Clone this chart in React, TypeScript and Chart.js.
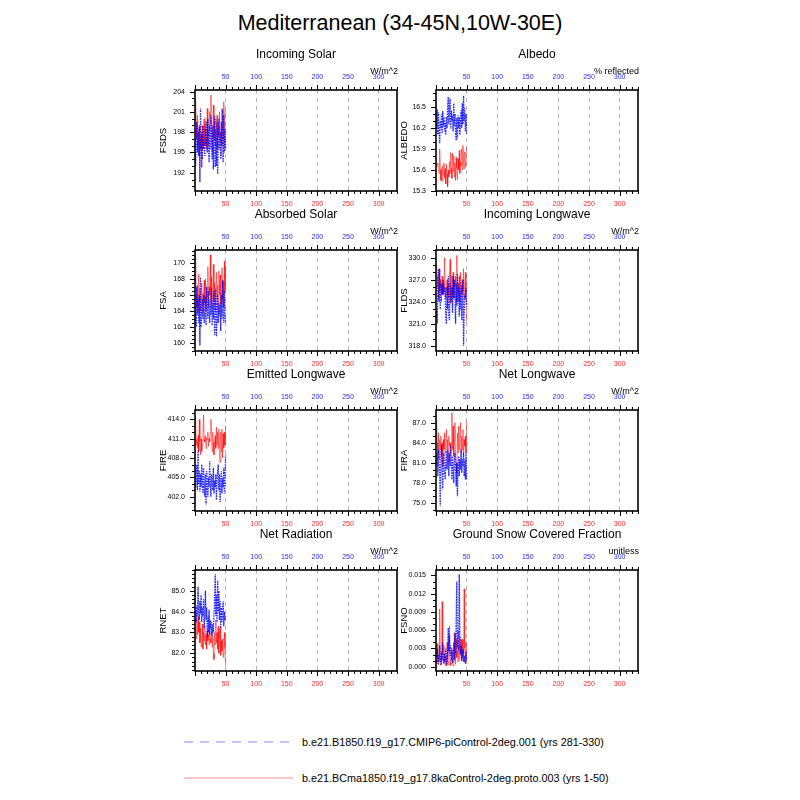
import React, { useEffect, useRef } from "react";
import { Chart, registerables } from "chart.js";

Chart.register(...registerables);

const FONT = '"Liberation Sans", Arial, Helvetica, sans-serif';

const MAIN_TITLE = "Mediterranean (34-45N,10W-30E)";
const LEGEND_BLUE = "b.e21.B1850.f19_g17.CMIP6-piControl-2deg.001 (yrs 281-330)";
const LEGEND_RED = "b.e21.BCma1850.f19_g17.8kaControl-2deg.proto.003 (yrs 1-50)";

const YEARS = [
  1, 2, 3, 4, 5, 6, 7, 8, 9, 10, 11, 12, 13, 14, 15, 16, 17, 18, 19, 20, 21, 22, 23, 24, 25,
  26, 27, 28, 29, 30, 31, 32, 33, 34, 35, 36, 37, 38, 39, 40, 41, 42, 43, 44, 45, 46, 47, 48, 49, 50,
];
const X_TICKS = [50, 100, 150, 200, 250, 300];
const X_MIN = 0;
const X_MAX = 330;

// ---------- data ----------
const FSDS_RED = [
  203.0, 199.5, 197.0, 200.5, 196.0, 198.5, 194.5, 199.0, 195.5, 197.5,
  192.8, 199.0, 195.5, 198.0, 200.0, 196.0, 199.5, 197.0, 195.5, 201.5,
  197.5, 196.0, 198.5, 201.0, 199.0, 203.5, 197.5, 195.0, 198.0, 202.0,
  197.0, 199.5, 196.0, 200.0, 198.5, 200.5, 195.5, 199.0, 197.5, 201.0,
  196.5, 198.0, 194.5, 201.5, 199.0, 197.0, 202.5, 196.0, 200.5, 201.5,
];
const FSDS_BLUE = [
  193.0, 196.5, 199.5, 195.0, 198.0, 194.5, 199.0, 190.6, 201.5, 195.5,
  198.0, 194.0, 199.0, 195.5, 197.0, 194.5, 198.5, 196.0, 199.5, 195.0,
  200.0, 196.5, 193.5, 199.0, 195.5, 200.5, 197.5, 194.0, 199.0, 192.5,
  197.5, 200.5, 192.8, 198.5, 193.0, 199.5, 191.8, 197.0, 200.0, 195.5,
  198.0, 194.0, 199.5, 196.0, 201.4, 193.5, 200.5, 195.0, 198.5, 195.5,
];
const FSDS_TICKS = [192, 195, 198, 201, 204];

const ALBEDO_RED = [
  15.67, 15.66, 15.70, 15.62, 15.55, 15.90, 15.60, 15.45, 15.62, 15.44,
  15.66, 15.52, 15.70, 15.48, 15.62, 15.40, 15.68, 15.55, 15.36, 15.60,
  15.50, 15.72, 15.55, 15.85, 15.62, 15.48, 15.84, 15.58, 15.80, 15.50,
  15.70, 15.45, 15.78, 15.62, 15.46, 15.76, 15.60, 15.88, 15.55, 15.72,
  15.66, 15.90, 15.60, 15.95, 15.70, 15.62, 15.86, 15.65, 15.78, 15.92,
];
const ALBEDO_BLUE = [
  16.20, 16.46, 16.10, 16.42, 16.15, 15.98, 16.30, 16.25, 16.40, 16.12,
  16.44, 16.22, 16.35, 16.15, 16.28, 16.10, 16.36, 16.20, 16.50, 16.64,
  16.25, 16.45, 16.62, 16.18, 16.45, 16.30, 16.38, 16.15, 16.55, 16.22,
  16.40, 16.12, 16.02, 16.34, 16.05, 16.38, 16.20, 16.35, 16.10, 16.30,
  16.45, 16.20, 16.55, 16.25, 16.66, 16.30, 16.48, 16.15, 16.40, 16.10,
];
const ALBEDO_TICKS = [15.3, 15.6, 15.9, 16.2, 16.5];

const FSA_RED = [
  170.8, 166.0, 164.5, 167.2, 163.8, 168.6, 165.2, 166.8, 164.0, 165.5,
  167.5, 163.6, 166.2, 164.8, 167.8, 165.0, 168.0, 164.2, 166.5, 165.8,
  169.5, 164.5, 167.0, 166.0, 171.0, 165.5, 168.2, 164.8, 166.8, 169.8,
  165.2, 167.5, 164.0, 166.5, 168.8, 165.5, 167.2, 163.8, 169.0, 166.0,
  168.5, 164.8, 166.2, 169.4, 165.5, 167.8, 164.5, 170.2, 166.5, 169.5,
];
const FSA_BLUE = [
  164.5, 162.0, 167.0, 163.5, 165.5, 162.5, 166.0, 159.7, 168.2, 162.0,
  164.5, 165.5, 163.0, 166.0, 162.5, 164.0, 165.8, 162.2, 167.0, 164.5,
  163.0, 166.5, 164.0, 162.5, 165.5, 163.5, 166.8, 162.2, 165.0, 163.0,
  166.5, 161.0, 164.5, 166.8, 160.8, 164.0, 166.0, 162.5, 165.0, 163.5,
  164.8, 161.5, 166.0, 163.0, 167.8, 164.0, 162.5, 166.5, 163.5, 162.5,
];
const FSA_TICKS = [160, 162, 164, 166, 168, 170];

const FLDS_RED = [
  329.0, 326.0, 327.5, 324.5, 328.5, 325.5, 327.0, 326.0, 324.0, 327.5,
  325.0, 326.5, 325.5, 330.0, 326.0, 324.5, 326.0, 327.0, 325.0, 326.5,
  324.5, 327.0, 329.8, 323.8, 326.5, 327.5, 325.0, 328.0, 324.5, 327.0,
  326.0, 327.5, 324.0, 330.3, 325.5, 326.5, 325.0, 327.5, 324.0, 328.0,
  326.0, 325.0, 327.0, 325.5, 328.5, 324.5, 326.0, 328.0, 325.0, 321.3,
];
const FLDS_BLUE = [
  323.0, 321.0, 325.5, 328.5, 324.0, 328.5, 323.0, 326.5, 325.0, 326.5,
  325.0, 327.0, 325.5, 326.0, 324.5, 322.0, 321.0, 326.0, 323.0, 327.5,
  322.0, 321.5, 326.5, 325.5, 324.0, 326.0, 322.5, 327.5, 324.5, 327.0,
  324.5, 321.0, 326.5, 323.5, 327.8, 324.0, 326.0, 322.0, 325.5, 323.0,
  326.5, 321.5, 324.5, 327.0, 318.0, 322.5, 325.0, 324.5, 326.0, 323.5,
];
const FLDS_TICKS = [318, 321, 324, 327, 330];

const FIRE_RED = [
  414.5, 410.0, 411.0, 409.5, 411.5, 409.0, 414.0, 410.5, 408.5, 411.0,
  409.0, 410.0, 411.5, 414.7, 411.0, 410.5, 411.5, 409.5, 411.2, 410.8,
  412.0, 409.8, 411.0, 410.5, 412.0, 414.0, 411.0, 409.0, 412.0, 410.5,
  408.5, 410.8, 411.5, 409.5, 412.8, 410.0, 412.0, 409.5, 412.5, 408.0,
  407.3, 412.0, 409.0, 412.5, 408.0, 411.8, 409.5, 412.0, 410.0, 413.0,
];
const FIRE_BLUE = [
  403.5, 405.0, 407.0, 403.0, 409.3, 404.0, 406.0, 402.8, 405.5, 403.5,
  407.0, 404.5, 402.5, 406.5, 404.0, 402.0, 405.5, 400.8, 406.0, 404.5,
  402.0, 405.0, 403.5, 407.5, 404.0, 402.0, 405.5, 404.0, 403.0, 406.5,
  402.5, 404.5, 403.5, 405.5, 401.5, 404.5, 406.0, 407.0, 403.0, 405.5,
  401.2, 404.0, 406.0, 402.5, 405.0, 403.5, 406.5, 402.5, 404.5, 408.5,
];
const FIRE_TICKS = [402, 405, 408, 411, 414];

const FIRA_RED = [
  87.5, 84.0, 82.5, 85.5, 81.5, 84.5, 83.0, 85.0, 82.0, 84.0,
  80.5, 84.5, 83.0, 85.5, 82.5, 84.0, 86.0, 83.0, 84.5, 81.0,
  85.0, 83.5, 84.0, 82.5, 84.0, 88.5, 83.0, 86.5, 82.0, 84.5,
  87.0, 82.0, 81.0, 79.5, 85.5, 82.5, 86.5, 83.0, 84.5, 87.0,
  82.5, 85.0, 83.0, 86.0, 82.0, 84.5, 83.5, 85.0, 82.5, 87.2,
];
const FIRA_BLUE = [
  80.5, 82.5, 79.0, 83.0, 81.0, 79.5, 74.5, 82.0, 83.7, 80.0,
  77.0, 81.5, 82.5, 79.5, 78.5, 81.0, 82.8, 80.0, 83.0, 81.5,
  79.0, 82.5, 80.5, 83.5, 81.0, 78.5, 82.0, 80.0, 78.0, 81.5,
  82.5, 80.0, 77.5, 81.0, 76.0, 80.5, 82.0, 79.0, 81.5, 80.0,
  83.0, 79.5, 81.0, 80.5, 82.5, 79.0, 81.5, 78.5, 82.5, 78.5,
];
const FIRA_TICKS = [75, 78, 81, 84, 87];

const RNET_RED = [
  83.2, 82.7, 83.6, 82.9, 83.8, 83.0, 83.5, 82.5, 83.2, 82.3,
  82.8, 83.4, 82.2, 83.0, 82.6, 83.3, 82.4, 82.9, 82.2, 83.1,
  82.6, 82.9, 82.4, 83.0, 82.7, 82.5, 83.2, 82.3, 82.8, 82.0,
  81.7, 83.0, 82.4, 83.6, 82.5, 83.0, 82.2, 83.3, 82.0, 82.8,
  83.2, 81.9, 82.6, 82.1, 82.7, 81.8, 82.5, 83.0, 82.2, 81.4,
];
const RNET_BLUE = [
  84.0, 83.5, 84.3, 83.8, 85.2, 84.0, 83.6, 84.5, 83.9, 84.8,
  83.5, 84.2, 83.8, 84.6, 83.2, 84.0, 85.0, 83.6, 84.2, 82.8,
  83.8, 83.0, 84.1, 82.9, 83.6, 83.2, 83.5, 82.8, 83.4, 83.0,
  83.9, 84.5, 85.8, 83.8, 84.8, 83.5, 85.5, 84.0, 85.0, 83.6,
  84.5, 83.2, 84.2, 83.5, 84.0, 84.5, 83.3, 84.0, 83.6, 83.8,
];
const RNET_TICKS = [82, 83, 84, 85];

const FSNO_RED = [
  0.0005, 0.0038, 0.0012, 0.0003, 0.0028, 0.0095, 0.0008, 0.0015, 0.0004, 0.0107,
  0.0022, 0.0006, 0.0035, 0.0010, 0.0002, 0.0018, 0.0001, 0.0040, 0.0012, 0.0003,
  0.0025, 0.0067, 0.0008, 0.0002, 0.0014, 0.0030, 0.0005, 0.0001, 0.0020, 0.0056,
  0.0010, 0.0004, 0.0045, 0.0015, 0.0025, 0.0008, 0.0035, 0.0012, 0.0050, 0.0020,
  0.0045, 0.0010, 0.0045, 0.0025, 0.0008, 0.0128, 0.0030, 0.0015, 0.0040, 0.0005,
];
const FSNO_BLUE = [
  0.0015, 0.0030, 0.0005, 0.0020, 0.0008, 0.0035, 0.0012, 0.0002, 0.0025, 0.0010,
  0.0040, 0.0015, 0.0005, 0.0022, 0.0008, 0.0030, 0.0012, 0.0003, 0.0020, 0.0064,
  0.0025, 0.0052, 0.0018, 0.0035, 0.0010, 0.0028, 0.0006, 0.0015, 0.0040, 0.0012,
  0.0055, 0.0020, 0.0080, 0.0140, 0.0030, 0.0060, 0.0025, 0.0152, 0.0040, 0.0020,
  0.0035, 0.0010, 0.0028, 0.0015, 0.0022, 0.0008, 0.0018, 0.0005, 0.0025, 0.0012,
];
const FSNO_TICKS = [0, 0.003, 0.006, 0.009, 0.012, 0.015];

// ---------- layout / style ----------
const COL_X = [195, 436];
const ROW_Y = [90, 250, 410, 570];
const BOX_W = 202;
const BOX_H = 101;
const PAD_L = 70;
const PAD_T = 50;
const PAD_R = 10;
const PAD_B = 30;

const RED = "rgba(255,0,0,0.6)";
const BLUE = "rgba(0,0,255,0.85)";

type PanelDef = {
  title: string;
  varName: string;
  units: string;
  yMin: number;
  yMax: number;
  yTicks: number[];
  decimals: number;
  minor: number;
  red: number[];
  blue: number[];
  col: number;
  row: number;
};

const PANELS: PanelDef[] = [
  { title: "Incoming Solar", varName: "FSDS", units: "W/m^2", yMin: 189.3, yMax: 204.25, yTicks: FSDS_TICKS, decimals: 0, minor: 1, red: FSDS_RED, blue: FSDS_BLUE, col: 0, row: 0 },
  { title: "Albedo", varName: "ALBEDO", units: "% reflected", yMin: 15.3, yMax: 16.74, yTicks: ALBEDO_TICKS, decimals: 1, minor: 0.1, red: ALBEDO_RED, blue: ALBEDO_BLUE, col: 1, row: 0 },
  { title: "Absorbed Solar", varName: "FSA", units: "W/m^2", yMin: 159.0, yMax: 171.6, yTicks: FSA_TICKS, decimals: 0, minor: 0.5, red: FSA_RED, blue: FSA_BLUE, col: 0, row: 1 },
  { title: "Incoming Longwave", varName: "FLDS", units: "W/m^2", yMin: 317.3, yMax: 331.05, yTicks: FLDS_TICKS, decimals: 1, minor: 1, red: FLDS_RED, blue: FLDS_BLUE, col: 1, row: 1 },
  { title: "Emitted Longwave", varName: "FIRE", units: "W/m^2", yMin: 399.8, yMax: 415.45, yTicks: FIRE_TICKS, decimals: 1, minor: 1, red: FIRE_RED, blue: FIRE_BLUE, col: 0, row: 2 },
  { title: "Net Longwave", varName: "FIRA", units: "W/m^2", yMin: 73.8, yMax: 88.9, yTicks: FIRA_TICKS, decimals: 1, minor: 1, red: FIRA_RED, blue: FIRA_BLUE, col: 1, row: 2 },
  { title: "Net Radiation", varName: "RNET", units: "W/m^2", yMin: 81.15, yMax: 86.0, yTicks: RNET_TICKS, decimals: 1, minor: 0.2, red: RNET_RED, blue: RNET_BLUE, col: 0, row: 3 },
  { title: "Ground Snow Covered Fraction", varName: "FSNO", units: "unitless", yMin: -0.0007, yMax: 0.0159, yTicks: FSNO_TICKS, decimals: 3, minor: 0.001, red: FSNO_RED, blue: FSNO_BLUE, col: 1, row: 3 },
];

function makeFramePlugin(def: PanelDef) {
  return {
    id: "nclFrame",
    afterDraw(chart: any) {
      const { ctx, chartArea: a, scales } = chart;
      const xs = scales.x;
      const ys = scales.y;
      ctx.save();
      ctx.strokeStyle = "#000";
      ctx.lineWidth = 1;
      ctx.beginPath();
      for (let k = 0; k * 10 <= X_MAX; k++) {
        const v = k * 10;
        const px = Math.round(xs.getPixelForValue(v)) + 0.5;
        const len = v % 50 === 0 ? 5 : 3;
        ctx.moveTo(px, a.bottom);
        ctx.lineTo(px, a.bottom + len);
        ctx.moveTo(px, a.top);
        ctx.lineTo(px, a.top - len);
      }
      const kStart = Math.ceil(def.yMin / def.minor - 1e-6);
      const kEnd = Math.floor(def.yMax / def.minor + 1e-6);
      for (let k = kStart; k <= kEnd; k++) {
        const v = k * def.minor;
        const isMajor = def.yTicks.some((t) => Math.abs(t - v) < def.minor * 0.01);
        const py = Math.round(ys.getPixelForValue(v)) + 0.5;
        ctx.moveTo(a.left, py);
        ctx.lineTo(a.left - (isMajor ? 5 : 3), py);
      }
      ctx.stroke();
      ctx.lineWidth = 1.6;
      ctx.strokeRect(a.left, a.top, a.right - a.left, a.bottom - a.top);
      ctx.fillStyle = "#000";
      ctx.textAlign = "center";
      ctx.textBaseline = "middle";
      ctx.font = `12px ${FONT}`;
      ctx.fillText(def.title, (a.left + a.right) / 2, a.top - 35);
      ctx.textAlign = "right";
      ctx.font = `9px ${FONT}`;
      ctx.fillText(def.units, a.right + 1, a.top - 18);
      ctx.translate(a.left - 32, (a.top + a.bottom) / 2);
      ctx.rotate(-Math.PI / 2);
      ctx.textAlign = "center";
      ctx.font = `9.5px ${FONT}`;
      ctx.fillText(def.varName, 0, 0);
      ctx.restore();
    },
  };
}

function Panel({ def }: { def: PanelDef }) {
  const ref = useRef<HTMLCanvasElement>(null);
  const W = PAD_L + BOX_W + PAD_R;
  const H = PAD_T + BOX_H + PAD_B;
  const boxLeft = COL_X[def.col];
  const boxTop = ROW_Y[def.row];

  useEffect(() => {
    if (!ref.current) return;
    const tickFont = { family: FONT, size: 7 };
    const chart = new Chart(ref.current, {
      type: "line",
      data: {
        datasets: [
          {
            label: "blue",
            data: YEARS.map((x, i) => ({ x, y: def.blue[i] })),
            borderColor: BLUE,
            borderWidth: 1.3,
            borderDash: [1.6, 1],
            pointRadius: 0,
            fill: false,
            tension: 0,
            xAxisID: "x",
            yAxisID: "y",
          },
          {
            label: "red",
            data: YEARS.map((x, i) => ({ x, y: def.red[i] })),
            borderColor: RED,
            borderWidth: 0.9,
            pointRadius: 0,
            fill: false,
            tension: 0,
            xAxisID: "x",
            yAxisID: "y",
          },
        ],
      },
      options: {
        animation: false,
        responsive: false,
        devicePixelRatio: 1,
        events: [],
        layout: { padding: { left: 0, top: 0, right: PAD_R, bottom: 0 } },
        plugins: {
          legend: { display: false },
          title: { display: false },
          tooltip: { enabled: false },
        },
        scales: {
          x: {
            type: "linear",
            position: "bottom",
            min: X_MIN,
            max: X_MAX,
            afterBuildTicks: (s: any) => {
              s.ticks = X_TICKS.map((v) => ({ value: v }));
            },
            afterFit: (s: any) => {
              s.height = PAD_B;
            },
            grid: { display: true, drawOnChartArea: true, drawTicks: false, color: "#b4b4b4", lineWidth: 1 },
            border: { display: false, dash: [4, 4] },
            ticks: { color: "#ff2a2a", font: tickFont, padding: 9, maxRotation: 0, autoSkip: false },
          },
          x2: {
            type: "linear",
            axis: "x",
            position: "top",
            min: X_MIN,
            max: X_MAX,
            afterBuildTicks: (s: any) => {
              s.ticks = X_TICKS.map((v) => ({ value: v }));
            },
            afterFit: (s: any) => {
              s.height = PAD_T;
            },
            grid: { display: false, drawTicks: false },
            border: { display: false },
            ticks: { color: "#2a2aff", font: tickFont, padding: 9, maxRotation: 0, autoSkip: false },
          },
          y: {
            type: "linear",
            position: "left",
            min: def.yMin,
            max: def.yMax,
            afterBuildTicks: (s: any) => {
              s.ticks = def.yTicks.map((v) => ({ value: v }));
            },
            afterFit: (s: any) => {
              s.width = PAD_L;
            },
            grid: { display: false, drawTicks: false },
            border: { display: false },
            ticks: {
              color: "#000",
              font: tickFont,
              padding: 10,
              autoSkip: false,
              callback: (v: any) => Number(v).toFixed(def.decimals),
            },
          },
        },
      } as any,
      plugins: [makeFramePlugin(def)],
    });
    return () => chart.destroy();
  }, [def]);

  return (
    <canvas
      ref={ref}
      width={W}
      height={H}
      style={{ position: "absolute", left: boxLeft - PAD_L, top: boxTop - PAD_T, width: W, height: H }}
    />
  );
}

export default function App() {
  return (
    <div
      style={{
        position: "fixed",
        left: 0,
        top: 0,
        width: 800,
        height: 800,
        background: "#fff",
        overflow: "hidden",
        fontFamily: FONT,
      }}
    >
      <div
        style={{
          position: "absolute",
          left: 0,
          top: 9,
          width: 800,
          height: 28,
          lineHeight: "28px",
          textAlign: "center",
          fontSize: 21.5,
          color: "#000",
        }}
      >
        {MAIN_TITLE}
      </div>
      {PANELS.map((p) => (
        <Panel key={p.varName} def={p} />
      ))}
      <svg width={800} height={80} style={{ position: "absolute", left: 0, top: 720 }}>
        <line x1={184} y1={22} x2={290} y2={22} stroke="#b0b0ff" strokeWidth={1.5} strokeDasharray="9 7" />
        <text x={302} y={22} dominantBaseline="central" fontSize={10.8} fontFamily={FONT} fill="#000">
          {LEGEND_BLUE}
        </text>
        <line x1={184} y1={58} x2={293} y2={58} stroke="#ffb0b0" strokeWidth={1.5} />
        <text x={302} y={58} dominantBaseline="central" fontSize={10.8} fontFamily={FONT} fill="#000">
          {LEGEND_RED}
        </text>
      </svg>
    </div>
  );
}
